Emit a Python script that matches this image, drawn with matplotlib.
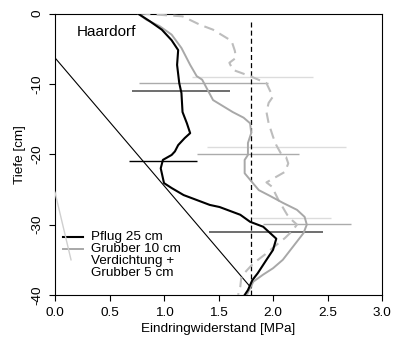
import matplotlib
matplotlib.use('Agg')
import matplotlib.pyplot as plt

plt.rcParams['font.family'] = ['Liberation Sans', 'DejaVu Sans']

# penetration resistance profiles (MPa) vs depth (cm)
pflug_x = [0.76, 0.87, 0.98, 1.07, 1.13, 1.12, 1.14, 1.16, 1.17, 1.21, 1.24, 1.19, 1.13,
           1.10, 1.07, 0.99, 0.97, 1.00, 1.07, 1.18, 1.30, 1.42, 1.51, 1.70, 1.79, 1.91,
           2.03, 2.00, 1.94, 1.86, 1.81, 1.77, 1.74]
pflug_d = [0.0, -1.1, -2.3, -3.8, -5.2, -7.3, -9.9, -11.3, -14.0, -15.6, -17.0, -17.7, -18.7,
           -19.6, -20.1, -20.8, -22.0, -24.1, -24.8, -25.8, -26.5, -27.2, -27.5, -28.6, -29.6,
           -30.3, -32.0, -33.6, -35.0, -36.9, -37.9, -39.3, -40.0]

grub_x = [0.76, 0.84, 0.96, 1.07, 1.16, 1.24, 1.30, 1.35, 1.45, 1.63, 1.73, 1.79, 1.80,
          1.77, 1.77, 1.74, 1.74, 1.81, 1.87, 1.97, 2.09, 2.22, 2.29, 2.31, 2.28, 2.22,
          2.16, 2.09, 2.00, 1.91, 1.82, 1.79, 1.76]
grub_d = [0.0, -0.9, -1.8, -3.0, -4.9, -7.3, -8.9, -9.4, -12.3, -14.0, -14.8, -15.6, -17.0,
          -18.4, -20.1, -20.8, -22.7, -24.0, -25.1, -25.9, -26.9, -27.9, -28.9, -30.0, -31.2,
          -32.4, -33.6, -35.0, -36.2, -37.1, -38.1, -39.0, -40.0]

verd_x = [0.78, 1.17, 1.33, 1.45, 1.62, 1.65, 1.66, 1.60, 1.63, 1.79, 1.94, 1.97, 2.00,
          1.96, 1.94, 1.96, 2.00, 2.03, 2.08, 2.12, 2.14, 2.11, 1.94, 1.99, 2.05, 2.13,
          2.17, 2.22, 2.17, 2.11, 2.03, 1.93, 1.82, 1.76, 1.71, 1.70, 1.68]
verd_d = [0.0, -0.4, -1.6, -2.3, -3.9, -5.3, -6.3, -7.0, -8.0, -8.9, -9.9, -10.9, -11.8,
          -12.7, -14.0, -15.6, -17.5, -18.7, -20.1, -20.4, -21.3, -22.5, -24.0, -24.6, -26.5,
          -28.6, -29.3, -30.0, -31.0, -31.9, -32.9, -34.2, -35.5, -36.5, -37.4, -38.8, -40.0]

# horizontal bars (depth, left, right, colour, width)
bar_d     = [-11.0, -9.9, -9.0, -21.0, -20.0, -19.0, -31.0, -29.95, -29.0]
bar_left  = [0.71, 0.77, 1.26, 0.68, 1.30, 1.39, 1.41, 1.91, 1.81]
bar_right = [1.61, 1.95, 2.37, 1.30, 2.24, 2.67, 2.46, 2.72, 2.53]
bar_col   = ['#6e6e6e', '#ababab', '#dcdcdc', '#000000', '#ababab', '#dcdcdc',
             '#6e6e6e', '#ababab', '#dcdcdc']
bar_lw    = [1.4, 1.0, 1.0, 1.0, 1.0, 1.0, 1.4, 1.0, 1.0]

# thin reference line and the stray grey stroke
ref_x, ref_d = [0.0, 1.8], [-6.3, -39.0]
stray_x, stray_d = [0.0, 0.147], [-25.4, -35.0]
crit_x = 1.8

fig = plt.figure(figsize=(3.93, 3.38), dpi=100)
ax = fig.add_axes([55/393, 1-295/338, 327/393, 281.5/338])

for d, l, r, c, w in zip(bar_d, bar_left, bar_right, bar_col, bar_lw):
    ax.plot([l, r], [d, d], color=c, lw=w, solid_capstyle='butt', zorder=2)

ax.plot(ref_x, ref_d, color='black', lw=0.8, zorder=3)
ax.plot(stray_x, stray_d, color='#cfcfcf', lw=1.0, zorder=3)
ax.plot([crit_x, crit_x], [-1.2, -40], color='black', lw=0.9, dashes=(4, 2.5), zorder=3)

ax.plot(verd_x, verd_d, color='#bdbdbd', lw=1.5, dashes=(5, 3), zorder=4)
ax.plot(grub_x, grub_d, color='#a8a8a8', lw=1.4, zorder=4)
ax.plot(pflug_x, pflug_d, color='black', lw=1.5, zorder=5)

ax.set_xlim(0, 3)
ax.set_ylim(-40, 0)
ax.set_xticks([0, 0.5, 1.0, 1.5, 2.0, 2.5, 3.0])
ax.set_xticklabels(['0.0', '0.5', '1.0', '1.5', '2.0', '2.5', '3.0'])
ax.set_yticks([0, -10, -20, -30, -40])
ax.set_yticklabels(['0', '-10', '-20', '-30', '-40'], rotation=90, va='center')
ax.tick_params(direction='out', length=4, width=0.8, labelsize=9.7, pad=4.5, colors='black')
for s in ax.spines.values():
    s.set_linewidth(0.8)

ax.set_xlabel('Eindringwiderstand [MPa]', fontsize=9.7, labelpad=3)
ax.set_ylabel('Tiefe [cm]', fontsize=9.7, labelpad=4)

ax.text(0.067, 0.934, 'Haardorf', transform=ax.transAxes, fontsize=11, va='center', ha='left')

# legend drawn by hand (R-style tight spacing)
leg_y = [0.206, 0.163, 0.121, 0.078]
leg_txt = ['Pflug 25 cm', 'Grubber 10 cm', 'Verdichtung +', 'Grubber 5 cm']
ax.plot([0.0245, 0.086], [leg_y[0]]*2, color='black', lw=1.5, transform=ax.transAxes)
ax.plot([0.0245, 0.086], [leg_y[1]]*2, color='#a8a8a8', lw=1.4, transform=ax.transAxes)
for y, t in zip(leg_y, leg_txt):
    ax.text(0.110, y, t, transform=ax.transAxes, fontsize=9.7, va='center', ha='left')

fig.savefig('out.png', dpi=100)
